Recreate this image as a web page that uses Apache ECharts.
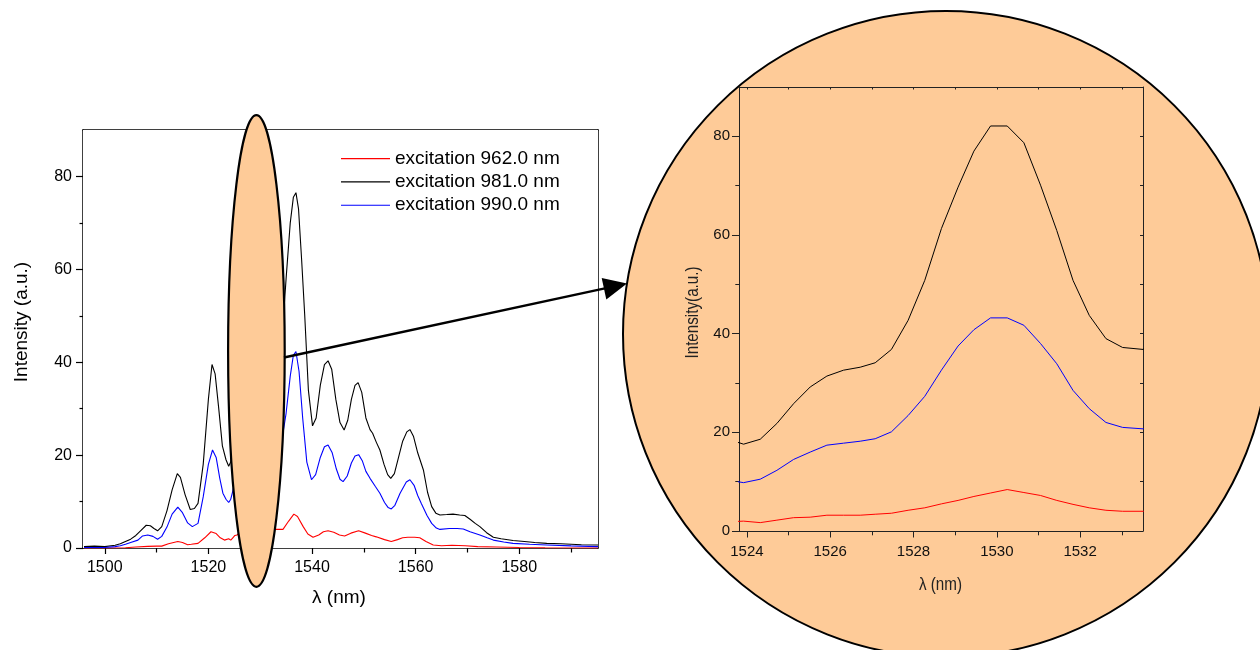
<!DOCTYPE html>
<html>
<head>
<meta charset="utf-8">
<script src="https://cdn.jsdelivr.net/npm/echarts@6/dist/echarts.min.js"></script>
<style>
html,body{margin:0;padding:0;background:#fff;}
#c{width:1260px;height:650px;}
</style>
</head>
<body>
<div id="c"></div>
<script>
// ---------- data ----------
const seriesNames = ['excitation 962.0 nm', 'excitation 981.0 nm', 'excitation 990.0 nm'];

// fine-sampled region (also shown in the magnified inset)
const insetX = [1523.92, 1524.32, 1524.72, 1525.12, 1525.52, 1525.92, 1526.32, 1526.72, 1527.08, 1527.47, 1527.87, 1528.27, 1528.67, 1529.07, 1529.45, 1529.85, 1530.25, 1530.65, 1531.05, 1531.44, 1531.83, 1532.22, 1532.62, 1533.02, 1533.52];
const blackInset = [17.6, 18.6, 21.8, 25.8, 29.2, 31.4, 32.6, 33.2, 34.1, 36.8, 42.7, 50.8, 61.3, 69.7, 77.0, 82.1, 82.1, 78.7, 70.1, 60.9, 50.8, 43.7, 39.0, 37.2, 36.8];
const blueInset = [9.8, 10.5, 12.3, 14.5, 16.0, 17.4, 17.8, 18.2, 18.7, 20.1, 23.4, 27.3, 32.6, 37.5, 40.8, 43.2, 43.2, 41.7, 38.0, 33.9, 28.5, 24.8, 22.0, 21.0, 20.7];
const redInset = [2.0, 1.7, 2.2, 2.7, 2.8, 3.2, 3.2, 3.2, 3.4, 3.6, 4.2, 4.7, 5.5, 6.2, 7.0, 7.7, 8.4, 7.8, 7.2, 6.2, 5.4, 4.7, 4.2, 4.0, 4.0];

const blackLeft = [[1496,0.3],[1498,0.4],[1500,0.3],[1502,0.6],[1503,0.9],[1504,1.4],[1505,1.9],[1506,2.7],[1507,3.8],[1508,4.9],[1508.8,4.8],[1509.5,4.2],[1510.2,3.7],[1511,4.6],[1512,8.0],[1513,12.5],[1514,16.0],[1514.6,15.2],[1515.5,11.5],[1516.5,8.3],[1517.3,8.5],[1518,9.6],[1519,18],[1520,32],[1520.7,39.5],[1521.3,37.5],[1522,30],[1522.7,22],[1523.4,19.0]];
const blackRight = [[1534.2,45],[1535,58],[1535.8,70],[1536.4,75.5],[1536.9,76.5],[1537.4,73],[1538,62],[1538.6,50],[1539.3,34],[1540.1,26.3],[1540.8,28],[1541.6,35],[1542.4,39.5],[1543.1,40.3],[1543.8,38.5],[1544.6,32],[1545.4,27],[1546.2,25.4],[1546.9,27.5],[1547.6,32],[1548.3,35],[1548.9,35.6],[1549.6,33.5],[1550.4,28],[1551.2,25.5],[1551.7,24.7],[1552.4,22.8],[1553.1,21.1],[1553.9,18],[1554.6,15.8],[1555.2,15.0],[1555.9,16],[1556.7,19.5],[1557.5,23],[1558.3,25],[1558.9,25.5],[1559.6,24],[1560.4,20.5],[1561.5,16.8],[1562.3,12],[1563.1,8.9],[1563.9,7.5],[1564.7,7.1],[1566,7.2],[1567.2,7.3],[1568.5,7.1],[1569.5,7.0],[1570.5,6.2],[1571.5,5.3],[1572.4,4.6],[1573.7,3.3],[1575,2.3],[1576.5,2.0],[1578.8,1.6],[1581,1.4],[1583,1.2],[1585.3,1.0],[1588,0.9],[1590,0.8],[1592,0.7],[1595.2,0.65]];

const blueLeft = [[1496,0.1],[1500,0.1],[1502,0.3],[1503,0.5],[1504,0.8],[1505,1.2],[1506.4,1.7],[1507.3,2.6],[1508.3,2.8],[1509.3,2.5],[1510.2,1.9],[1511,2.5],[1512,4.5],[1513,7.3],[1514.1,8.8],[1515,7.6],[1516,5.4],[1516.9,4.6],[1518,5.3],[1519,11],[1520,18],[1520.8,21.1],[1521.5,19.5],[1522.2,15],[1522.8,11.8],[1523.4,10.5]];
const blueRight = [[1534.1,22.6],[1535,29],[1535.8,37],[1536.4,41.5],[1536.9,42.3],[1537.5,38],[1538.2,28],[1539,18.5],[1539.9,14.7],[1540.7,15.8],[1541.6,19.5],[1542.4,21.8],[1543.1,22.2],[1543.9,20.5],[1544.7,17],[1545.4,14.8],[1546,14.3],[1546.8,15.5],[1547.6,18.3],[1548.3,19.8],[1549,20.1],[1549.7,18.8],[1550.4,16.5],[1551.2,15.0],[1552.2,13.3],[1553.1,11.8],[1554,9.8],[1554.7,8.7],[1555.3,8.4],[1556,9.2],[1557,11.8],[1558.2,14.2],[1558.9,14.7],[1559.7,13.5],[1560.4,11.3],[1561.1,9.6],[1562.2,7.0],[1563.1,5.3],[1564,4.3],[1564.7,4.0],[1566.5,4.2],[1568,4.2],[1569.2,4.1],[1570.5,3.5],[1572.4,2.8],[1573.8,2.2],[1575,1.7],[1577,1.3],[1578.8,1.0],[1582,0.8],[1585.3,0.65],[1590,0.45],[1595.2,0.3]];

const redLeft = [[1496,0],[1500,0],[1504,0.05],[1506,0.2],[1508.3,0.35],[1510,0.4],[1511,0.4],[1512.3,0.9],[1514.1,1.4],[1515,1.2],[1516,0.7],[1516.7,0.8],[1518,1.0],[1519.3,2.2],[1520.5,3.5],[1521.5,3.1],[1522.3,2.2],[1523.1,1.7]];
const redRight = [[1534.4,4.0],[1535.5,5.8],[1536.5,7.3],[1537.2,6.8],[1538.3,4.6],[1539.2,3.0],[1540.2,2.3],[1541.3,2.8],[1542.2,3.5],[1543.1,3.7],[1544.2,3.4],[1545.3,2.8],[1546.3,2.6],[1547.5,3.2],[1549,3.7],[1550.3,3.2],[1551.5,2.7],[1552.4,2.4],[1554,1.8],[1555.3,1.4],[1556.5,1.8],[1557.5,2.2],[1558.5,2.3],[1559.8,2.3],[1560.8,2.2],[1562,1.4],[1563.4,0.65],[1565,0.5],[1567,0.6],[1569.6,0.5],[1572,0.3],[1575.6,0.2],[1580,0.1],[1585,0.05],[1595.2,0]];

// tick values
const mainXLabels = [1500, 1520, 1540, 1560, 1580];
const mainXMinor = [1510, 1530, 1550, 1570, 1590];
const mainXTop = [1500, 1510, 1520, 1530, 1540, 1550, 1560, 1570, 1580, 1590];
const mainYLabels = [0, 20, 40, 60, 80];
const mainYMinor = [10, 30, 50, 70];
const mainYRight = [10, 20, 30, 40, 50, 60, 70, 80];
const insetXLabels = [1524, 1526, 1528, 1530, 1532];
const insetXMinor = [1525, 1527, 1529, 1531, 1533];
const insetXTop = [1524, 1525, 1526, 1527, 1528, 1529, 1530, 1531, 1532, 1533];
const insetYLabels = [0, 20, 40, 60, 80];
const insetYMinor = [10, 30, 50, 70];
const insetYRight = [10, 20, 30, 40, 50, 60, 70, 80];

// ---------- build ----------
function build(left, vals, right) {
  return left.concat(insetX.map((x, i) => [x, vals[i]]), right);
}
const redData = build(redLeft, redInset, redRight);
const blackData = build(blackLeft, blackInset, blackRight);
const blueData = build(blueLeft, blueInset, blueRight);
const colors = ['#ff0000', '#000000', '#0000ff'];
const datas = [redData, blackData, blueData];

const FONT = "'Liberation Sans', Arial, sans-serif";
const PEACH = '#fecb98';
const plain = v => String(v);

function xAx(grid, min, max, pos, opts) {
  return Object.assign({
    type: 'value', gridIndex: grid, min: min, max: max, position: pos,
    splitLine: {show: false},
    axisLine: {show: false, onZero: false, lineStyle: {color: '#000', width: 1.5}},
    axisTick: {show: false},
    axisLabel: {show: false}
  }, opts);
}

const mainXMin = 1495.8, mainXMax = 1595.2;
const insXMin = 1523.81, insXMax = 1533.51;

const xAxes = [
  xAx(0, mainXMin, mainXMax, 'bottom', {
    axisLine: {show: true, onZero: false, lineStyle: {color: '#000', width: 1.5}},
    axisTick: {show: true, inside: false, length: 6, customValues: mainXLabels, lineStyle: {color: '#000', width: 1.2}},
    axisLabel: {show: true, customValues: mainXLabels, formatter: plain, margin: 12, fontSize: 16, fontFamily: FONT, color: '#000'}
  }),
  xAx(0, mainXMin, mainXMax, 'bottom', {
    axisTick: {show: true, inside: false, length: 4.5, customValues: mainXMinor, lineStyle: {color: '#000', width: 1.2}}
  }),
  xAx(0, mainXMin, mainXMax, 'top', {
    axisLine: {show: true, onZero: false, lineStyle: {color: '#000', width: 1.5}},
    axisTick: {show: true, inside: true, length: 4, customValues: mainXTop, lineStyle: {color: '#000', width: 1.2}}
  }),
  xAx(1, insXMin, insXMax, 'bottom', {
    axisLine: {show: true, onZero: false, lineStyle: {color: '#222', width: 1}},
    axisTick: {show: true, inside: false, length: 6.5, customValues: insetXLabels, lineStyle: {color: '#222', width: 1}},
    axisLabel: {show: true, customValues: insetXLabels, formatter: plain, margin: 13, fontSize: 15, fontFamily: FONT, color: '#111'}
  }),
  xAx(1, insXMin, insXMax, 'bottom', {
    axisTick: {show: true, inside: false, length: 4.3, customValues: insetXMinor, lineStyle: {color: '#222', width: 1}}
  }),
  xAx(1, insXMin, insXMax, 'top', {
    axisLine: {show: true, onZero: false, lineStyle: {color: '#222', width: 1}},
    axisTick: {show: true, inside: true, length: 2.5, customValues: insetXTop, lineStyle: {color: '#222', width: 1}}
  })
];

function yAx(grid, pos, opts) {
  return Object.assign({
    type: 'value', gridIndex: grid, min: 0, max: 90, position: pos,
    splitLine: {show: false},
    axisLine: {show: false, onZero: false},
    axisTick: {show: false},
    axisLabel: {show: false}
  }, opts);
}
const yAxes = [
  yAx(0, 'left', {
    axisLine: {show: true, onZero: false, lineStyle: {color: '#000', width: 1.5}},
    axisTick: {show: true, inside: false, length: 7, customValues: mainYLabels, lineStyle: {color: '#000', width: 1.2}},
    axisLabel: {show: true, customValues: mainYLabels, formatter: plain, margin: 11, fontSize: 16, fontFamily: FONT, color: '#000'}
  }),
  yAx(0, 'left', {
    axisTick: {show: true, inside: false, length: 3.5, customValues: mainYMinor, lineStyle: {color: '#000', width: 1.2}}
  }),
  yAx(0, 'right', {
    axisLine: {show: true, onZero: false, lineStyle: {color: '#000', width: 1.5}},
    axisTick: {show: true, inside: true, length: 4, customValues: mainYRight, lineStyle: {color: '#000', width: 1.2}}
  }),
  yAx(1, 'left', {
    axisLine: {show: true, onZero: false, lineStyle: {color: '#222', width: 1}},
    axisTick: {show: true, inside: false, length: 7, customValues: insetYLabels, lineStyle: {color: '#222', width: 1}},
    axisLabel: {show: true, customValues: insetYLabels, formatter: plain, margin: 9, fontSize: 15, fontFamily: FONT, color: '#111'}
  }),
  yAx(1, 'left', {
    axisTick: {show: true, inside: false, length: 3.7, customValues: insetYMinor, lineStyle: {color: '#222', width: 1}}
  }),
  yAx(1, 'right', {
    axisLine: {show: true, onZero: false, lineStyle: {color: '#222', width: 1}},
    axisTick: {show: true, inside: true, length: 3, customValues: insetYRight, lineStyle: {color: '#222', width: 1}}
  })
];

const series = [];
for (let i = 0; i < 3; i++) {
  series.push({
    name: seriesNames[i], type: 'line', xAxisIndex: 0, yAxisIndex: 0,
    data: datas[i], symbol: 'none', clip: true, z: 3,
    lineStyle: {color: colors[i], width: 1.1}, itemStyle: {color: colors[i]}
  });
}
for (let i = 0; i < 3; i++) {
  series.push({
    name: seriesNames[i], type: 'line', xAxisIndex: 3, yAxisIndex: 3,
    data: datas[i], symbol: 'none', clip: true, z: 3,
    lineStyle: {color: colors[i], width: 1}, itemStyle: {color: colors[i]}
  });
}

const chart = echarts.init(document.getElementById('c'), null, {renderer: 'canvas'});
chart.setOption({
  animation: false,
  backgroundColor: '#fff',
  grid: [
    {left: 83, top: 130, width: 515, height: 418, show: true, backgroundColor: '#fff', borderWidth: 0, z: 1},
    {left: 739, top: 87, width: 404, height: 444, show: false}
  ],
  legend: {
    data: seriesNames, orient: 'vertical', left: 341, top: 147, padding: 0,
    icon: 'rect', itemWidth: 49, itemHeight: 1.2, itemGap: 0, selectedMode: false,
    textStyle: {fontSize: 19, lineHeight: 23.3, fontFamily: FONT, color: '#000'}
  },
  xAxis: xAxes,
  yAxis: yAxes,
  series: series,
  graphic: [
    {type: 'circle', z: 0, shape: {cx: 946, cy: 334, r: 323}, style: {fill: PEACH, stroke: '#000', lineWidth: 2}},
    {type: 'ellipse', z: 100, shape: {cx: 256.4, cy: 351, rx: 28.3, ry: 235.8}, style: {fill: PEACH, stroke: '#000', lineWidth: 2.2}},
    {type: 'line', z: 100, shape: {x1: 284, y1: 357.5, x2: 606, y2: 288.1}, style: {stroke: '#000', lineWidth: 2.5}},
    {type: 'polygon', z: 100, shape: {points: [[627, 283.5], [606.3, 299.4], [601.7, 277.9]]}, style: {fill: '#000'}},
    {type: 'text', z: 100, x: 339, y: 598, style: {text: 'λ (nm)', font: "19px " + FONT, fill: '#000', align: 'center', verticalAlign: 'middle'}},
    {type: 'text', z: 100, x: 22, y: 322, rotation: Math.PI / 2, style: {text: 'Intensity (a.u.)', font: "19px " + FONT, fill: '#000', align: 'center', verticalAlign: 'middle'}},
    {type: 'text', z: 100, x: 940.5, y: 585, scaleX: 0.8, style: {text: 'λ (nm)', font: "19px " + FONT, fill: '#222', align: 'center', verticalAlign: 'middle'}},
    {type: 'text', z: 100, x: 693, y: 312.5, rotation: Math.PI / 2, scaleX: 0.8, style: {text: 'Intensity(a.u.)', font: "19px " + FONT, fill: '#222', align: 'center', verticalAlign: 'middle'}}
  ]
});
</script>
</body>
</html>
